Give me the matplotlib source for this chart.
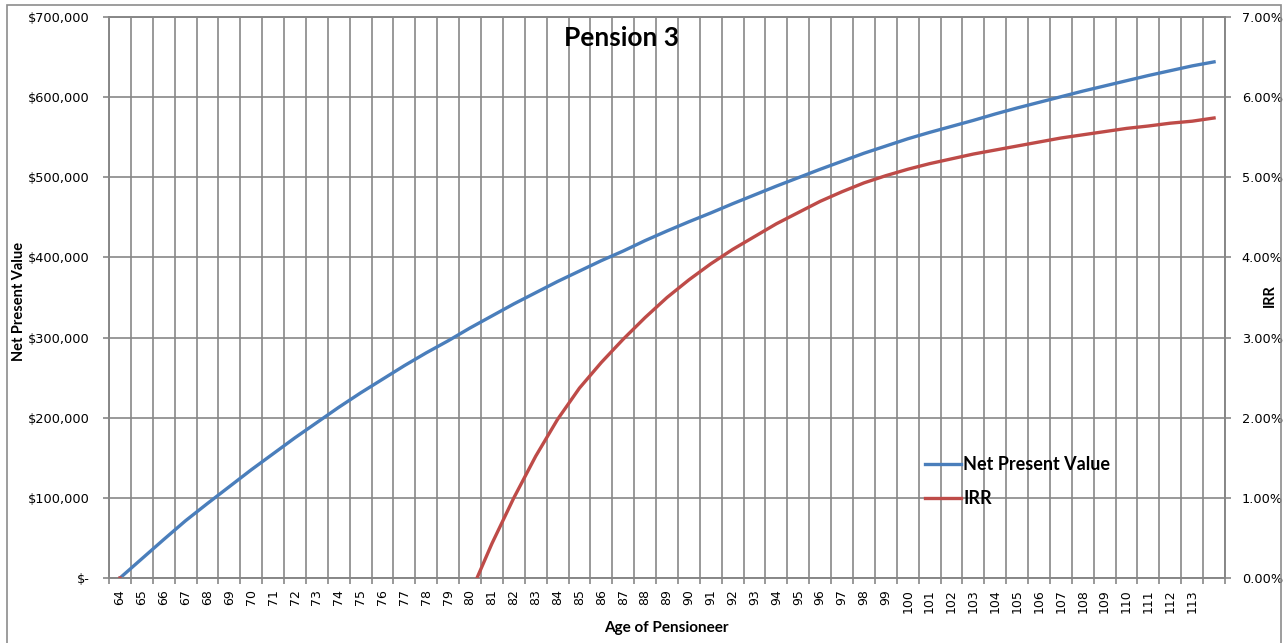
import matplotlib.pyplot as plt
from matplotlib.patches import Rectangle
from matplotlib.ticker import FuncFormatter, FixedLocator

# Age categories (last category has a data point but no label)
age_labels = [str(a) for a in range(64, 114)] + [""]

# Net present value ($) for each age
npv = [0, 24000, 48000, 71500, 93000, 114000, 135000, 155000, 175000, 194000,
       213000, 231000, 248000, 265000, 281000, 296000, 312000, 327000, 342000, 356000,
       370000, 383000, 396000, 408000, 421000, 433000, 444500, 455500, 467000, 478000,
       489000, 499500, 510000, 520000, 530000, 539000, 548000, 556000, 563500, 571000,
       579000, 586500, 593500, 600500, 607500, 614000, 620500, 627000, 633000, 639000,
       644000]

# IRR (%) for each age - negative values fall below the axis and are clipped
irr = [0.0, -60.0, -35.0, -22.0, -15.0, -10.5, -7.5, -5.4, -3.9, -2.8,
       -2.0, -1.4, -1.0, -0.7, -0.45, -0.3, -0.2, 0.43, 1.00, 1.52,
       1.98, 2.37, 2.69, 2.98, 3.25, 3.50, 3.72, 3.92, 4.10, 4.26,
       4.42, 4.56, 4.70, 4.82, 4.93, 5.02, 5.10, 5.17, 5.23, 5.29,
       5.34, 5.39, 5.44, 5.49, 5.53, 5.57, 5.61, 5.64, 5.675, 5.70,
       5.74]

grid_color = "#878787"
blue = "#4A7EBB"
red = "#BE4B48"

fig = plt.figure(figsize=(12.83, 6.43), dpi=100)
ax = fig.add_axes([109 / 1283, 1 - 578 / 643, (1225 - 109) / 1283, (578 - 17) / 643])
ax2 = ax.twinx()

x = list(range(len(age_labels)))

# Lines
l1, = ax.plot(x, npv, color=blue, lw=2.4, label="Net Present Value", zorder=3)
l2, = ax2.plot(x, irr, color=red, lw=2.4, label="IRR", zorder=3)

# Primary y axis
ax.set_xlim(-0.5, len(age_labels) - 0.5)
ax.set_ylim(0, 700000)
ax.set_yticks(range(0, 700001, 100000))
ax.yaxis.set_major_formatter(FuncFormatter(lambda v, p: "$-" if v == 0 else "${:,.0f}".format(v)))

# Secondary y axis
ax2.set_ylim(0, 7)
ax2.set_yticks(range(0, 8))
ax2.yaxis.set_major_formatter(FuncFormatter(lambda v, p: "{:.2f}%".format(v)))

# Category axis: labels at centres, ticks and gridlines at boundaries
ax.set_xticks(x)
ax.set_xticklabels(age_labels, rotation=90, fontsize=9)
ax.xaxis.set_minor_locator(FixedLocator([i - 0.5 for i in range(len(age_labels) + 1)]))
ax.tick_params(axis="x", which="major", length=0, pad=8)
ax.tick_params(axis="x", which="minor", length=4, color=grid_color, width=1.2)
ax.tick_params(axis="y", length=4, color=grid_color, width=1.2, pad=10, labelsize=9.3)
ax2.tick_params(axis="y", length=4, color=grid_color, width=1.2, pad=8, labelsize=9.3)

ax.grid(True, which="minor", axis="x", color=grid_color, lw=1.2)
ax.grid(True, which="major", axis="y", color=grid_color, lw=1.2)
ax.set_axisbelow(True)

for a in (ax, ax2):
    for s in a.spines.values():
        s.set_color(grid_color)
        s.set_linewidth(1.2)

# Titles
fig.text(621 / 1283, 1 - 38 / 643, "Pension 3", ha="center", va="center",
         fontsize=19, fontweight="bold", family="Lato")
fig.text(666 / 1283, 1 - 628 / 643, "Age of Pensioneer", ha="center", va="center",
         fontsize=11, fontweight="bold", family="Lato")
fig.text(19 / 1283, 1 - 301 / 643, "Net Present Value", ha="center", va="center",
         rotation=90, fontsize=10.5, fontweight="bold", family="Lato")
fig.text(1270 / 1283, 1 - 296 / 643, "IRR", ha="center", va="center",
         rotation=90, fontsize=10.5, fontweight="bold", family="Lato")

# Legend
fig.legend([l1, l2], ["Net Present Value", "IRR"], loc="upper left",
           bbox_to_anchor=(925 / 1283, 1 - 456 / 643), frameon=False,
           borderpad=0, borderaxespad=0, handlelength=2.0, handletextpad=0.12,
           labelspacing=0.95, prop={"family": "Lato", "weight": "bold", "size": 13})

# Chart area border
fig.patches.append(Rectangle((7 / 1283, -0.01), (1281 - 7) / 1283, 1.01 - 5 / 643,
                             transform=fig.transFigure, fill=False,
                             edgecolor="#8c8c8c", lw=1.2))

plt.savefig("out.png", dpi=100)
